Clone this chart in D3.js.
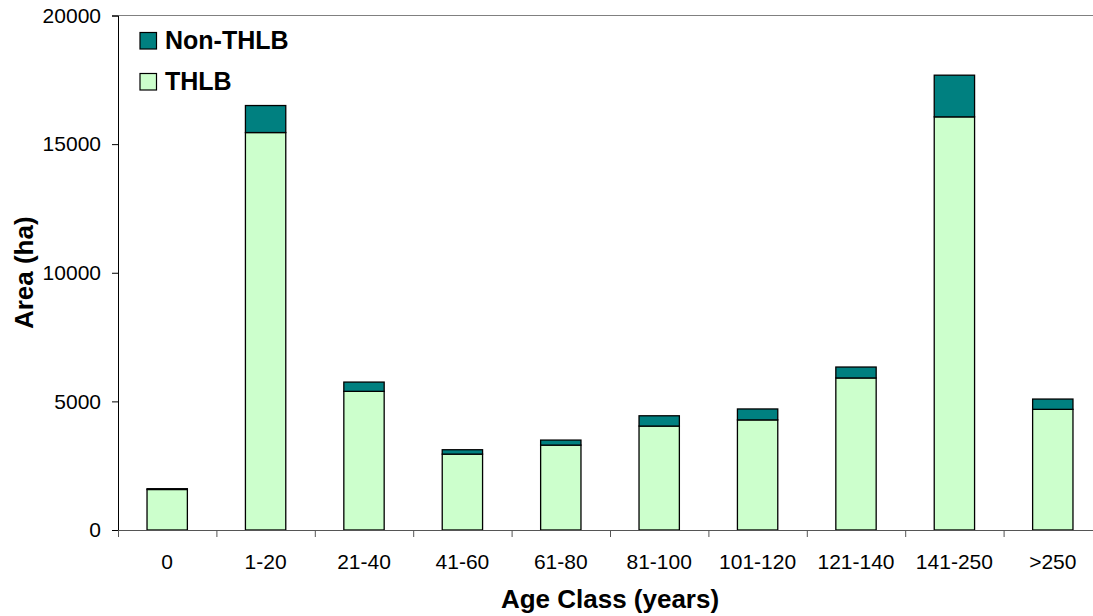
<!DOCTYPE html>
<html>
<head>
<meta charset="utf-8">
<script src="https://cdn.jsdelivr.net/npm/d3@7"></script>
<style>
  body { margin: 0; background: #fff; overflow: hidden; }
  svg text { font-family: Arial, "Liberation Sans", sans-serif; }
</style>
</head>
<body>
<script>
const categories = ["0", "1-20", "21-40", "41-60", "61-80", "81-100", "101-120", "121-140", "141-250", ">250"];
const thlb = [1575, 15450, 5390, 2950, 3300, 4040, 4280, 5910, 16060, 4690];
const nonThlb = [30, 1050, 360, 170, 195, 400, 425, 425, 1620, 400];
const seriesNames = ["THLB", "Non-THLB"];
const yTicks = [0, 5000, 10000, 15000, 20000];

const width = 1093,
    height = 616,
    plotLeft = 118, plotRight = 1102, plotTop = 15.5, plotBottom = 530,
    color = d3.scaleOrdinal().domain(seriesNames).range(["#ccffcc", "#008080"]);

const svg = d3.select("body").append("svg")
    .attr("width", width)
    .attr("height", height)
    .style("display", "block");

const rows = categories.map((c, i) => ({ cat: c, "THLB": thlb[i], "Non-THLB": nonThlb[i] }));

const x = d3.scaleBand()
    .domain(categories)
    .range([plotLeft, plotRight])
    .paddingInner(0.59)
    .paddingOuter(0.295);

const xEdge = d3.scaleLinear()
    .domain([0, categories.length])
    .range([plotLeft, plotRight]);

const y = d3.scaleLinear()
    .domain([0, 20000])
    .range([plotBottom, plotTop]);

// top edge of the plot area (its right side runs off the picture)
svg.append("line")
    .attr("x1", plotLeft).attr("x2", width)
    .attr("y1", plotTop).attr("y2", plotTop)
    .attr("stroke", "#808080")
    .attr("stroke-width", 1);

const stacked = d3.stack().keys(seriesNames)(rows);

svg.append("g").selectAll("g")
    .data(stacked)
    .join("g")
    .attr("fill", d => color(d.key))
    .selectAll("rect")
    .data(d => d)
    .join("rect")
    .attr("x", d => x(d.data.cat))
    .attr("y", d => y(d[1]))
    .attr("width", x.bandwidth())
    .attr("height", d => y(d[0]) - y(d[1]))
    .attr("stroke", "#000")
    .attr("stroke-width", 1.3);

// y axis
const yAxis = svg.append("g")
    .attr("transform", "translate(" + plotLeft + ",0)")
    .call(d3.axisLeft(y).tickValues(yTicks).tickFormat(d3.format("d")).tickSize(6).tickPadding(11));
yAxis.selectAll("text").attr("font-size", 21).attr("fill", "#000").style("font-family", "Arial, 'Liberation Sans', sans-serif");
yAxis.select(".domain").attr("stroke", "#000");
yAxis.selectAll(".tick line").attr("stroke", "#000");

// x axis: ticks on the category boundaries
const xAxis = svg.append("g")
    .attr("transform", "translate(0," + plotBottom + ")")
    .call(d3.axisBottom(xEdge).ticks(categories.length).tickFormat("").tickSize(7));
xAxis.select(".domain").attr("stroke", "#555");
xAxis.selectAll(".tick line").attr("stroke", "#555");

// x labels
svg.append("g").selectAll("text")
    .data(categories)
    .join("text")
    .attr("x", d => x(d) + x.bandwidth() / 2)
    .attr("y", 569)
    .attr("text-anchor", "middle")
    .attr("font-size", 21)
    .text(d => d);

// axis titles
svg.append("text")
    .attr("x", (plotLeft + plotRight) / 2)
    .attr("y", 608)
    .attr("text-anchor", "middle")
    .attr("font-size", 26)
    .attr("font-weight", "bold")
    .text("Age Class (years)");

svg.append("text")
    .attr("transform", "translate(33," + ((plotTop + plotBottom) / 2) + ") rotate(-90)")
    .attr("text-anchor", "middle")
    .attr("font-size", 26)
    .attr("font-weight", "bold")
    .text("Area (ha)");

// legend
const legend = svg.append("g").selectAll("g")
    .data(["Non-THLB", "THLB"])
    .join("g")
    .attr("transform", (d, i) => "translate(140," + (32.5 + i * 41) + ")");

legend.append("rect")
    .attr("width", 16.5)
    .attr("height", 16.5)
    .attr("fill", d => color(d))
    .attr("stroke", "#000")
    .attr("stroke-width", 1.2);

legend.append("text")
    .attr("x", 25)
    .attr("y", 16.5)
    .attr("font-size", 25)
    .attr("font-weight", "bold")
    .text(d => d);
</script>
</body>
</html>
